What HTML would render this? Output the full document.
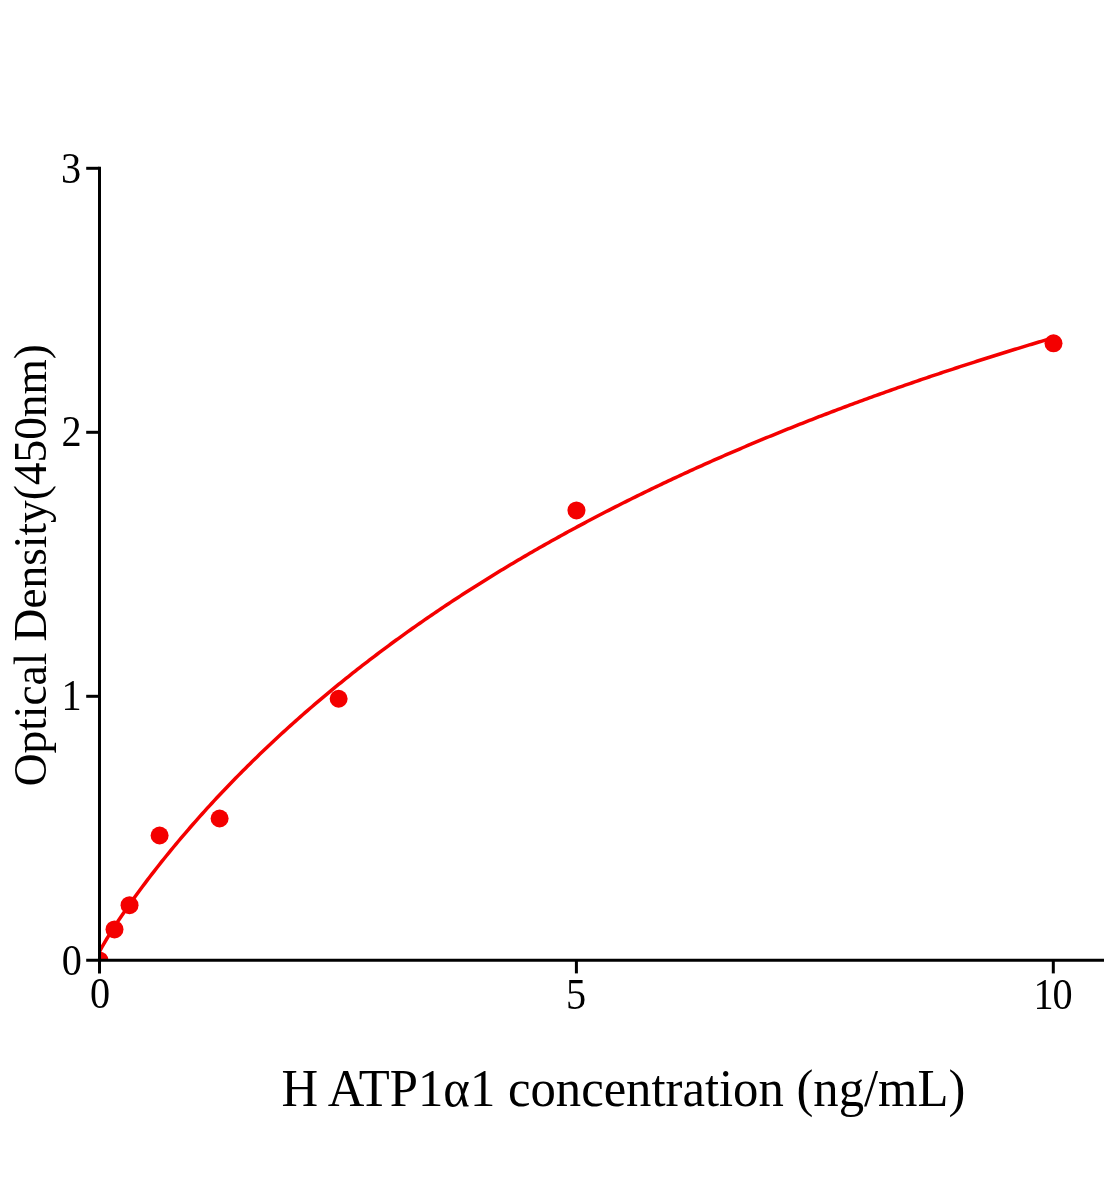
<!DOCTYPE html>
<html><head><meta charset="utf-8"><title>H ATP1α1 standard curve</title>
<style>
html,body{margin:0;padding:0;background:#fff;}
svg{display:block;}
text{font-family:"Liberation Serif","DejaVu Serif",serif;fill:#000;}
</style></head><body>
<svg width="1104" height="1200" viewBox="0 0 1104 1200">
<rect width="1104" height="1200" fill="#fff"/>
<defs><clipPath id="plot"><rect x="99.5" y="0" width="1100" height="960.3"/></clipPath></defs>
<g clip-path="url(#plot)">
<polyline points="99.50,951.76 101.89,947.18 104.28,943.02 106.67,939.02 109.06,935.14 111.45,931.34 113.84,927.61 116.23,923.94 118.62,920.33 121.01,916.78 123.40,913.26 125.80,909.79 128.19,906.36 130.58,902.97 132.97,899.62 135.36,896.30 137.75,893.01 140.14,889.75 142.53,886.53 144.92,883.33 147.31,880.16 149.70,877.02 152.09,873.91 154.48,870.82 156.87,867.76 159.26,864.72 161.65,861.71 164.04,858.72 166.43,855.76 168.82,852.81 171.21,849.89 173.60,846.99 176.00,844.11 178.39,841.25 180.78,838.41 183.17,835.60 185.56,832.80 187.95,830.02 190.34,827.26 192.73,824.52 195.12,821.79 197.51,819.09 199.90,816.40 202.29,813.73 204.68,811.08 207.07,808.44 209.46,805.82 211.85,803.22 214.24,800.63 216.63,798.06 219.02,795.51 221.41,792.97 223.80,790.45 226.20,787.94 228.59,785.45 230.98,782.97 233.37,780.51 235.76,778.06 238.15,775.62 240.54,773.20 242.93,770.80 245.32,768.40 247.71,766.02 250.10,763.66 252.49,761.31 254.88,758.97 257.27,756.64 259.66,754.33 262.05,752.03 264.44,749.74 266.83,747.47 269.22,745.20 271.61,742.95 274.00,740.72 276.40,738.49 278.79,736.28 281.18,734.07 283.57,731.88 285.96,729.70 288.35,727.54 290.74,725.38 293.13,723.23 295.52,721.10 297.91,718.98 300.30,716.86 302.69,714.76 305.08,712.67 307.47,710.59 309.86,708.52 312.25,706.46 314.64,704.41 317.03,702.37 319.42,700.35 321.81,698.33 324.20,696.32 326.60,694.32 328.99,692.33 331.38,690.35 333.77,688.38 336.16,686.42 338.55,684.47 340.94,682.53 343.33,680.60 345.72,678.67 348.11,676.76 350.50,674.85 352.89,672.96 355.28,671.07 357.67,669.19 360.06,667.32 362.45,665.46 364.84,663.61 367.23,661.77 369.62,659.93 372.01,658.10 374.40,656.29 376.80,654.48 379.19,652.67 381.58,650.88 383.97,649.09 386.36,647.32 388.75,645.55 391.14,643.78 393.53,642.03 395.92,640.28 398.31,638.55 400.70,636.82 403.09,635.09 405.48,633.38 407.87,631.67 410.26,629.97 412.65,628.27 415.04,626.59 417.43,624.91 419.82,623.24 422.21,621.57 424.60,619.92 427.00,618.27 429.39,616.62 431.78,614.99 434.17,613.36 436.56,611.73 438.95,610.12 441.34,608.51 443.73,606.91 446.12,605.31 448.51,603.72 450.90,602.14 453.29,600.57 455.68,599.00 458.07,597.43 460.46,595.88 462.85,594.33 465.24,592.78 467.63,591.25 470.02,589.72 472.41,588.19 474.80,586.67 477.20,585.16 479.59,583.65 481.98,582.15 484.37,580.66 486.76,579.17 489.15,577.69 491.54,576.21 493.93,574.74 496.32,573.27 498.71,571.81 501.10,570.36 503.49,568.91 505.88,567.47 508.27,566.03 510.66,564.60 513.05,563.18 515.44,561.76 517.83,560.34 520.22,558.93 522.61,557.53 525.00,556.13 527.40,554.74 529.79,553.35 532.18,551.97 534.57,550.59 536.96,549.22 539.35,547.85 541.74,546.49 544.13,545.13 546.52,543.78 548.91,542.44 551.30,541.09 553.69,539.76 556.08,538.43 558.47,537.10 560.86,535.78 563.25,534.46 565.64,533.15 568.03,531.84 570.42,530.54 572.81,529.24 575.20,527.95 577.60,526.66 579.99,525.38 582.38,524.10 584.77,522.83 587.16,521.56 589.55,520.29 591.94,519.03 594.33,517.77 596.72,516.52 599.11,515.28 601.50,514.03 603.89,512.80 606.28,511.56 608.67,510.33 611.06,509.11 613.45,507.89 615.84,506.67 618.23,505.46 620.62,504.25 623.01,503.05 625.40,501.85 627.80,500.65 630.19,499.46 632.58,498.27 634.97,497.09 637.36,495.91 639.75,494.74 642.14,493.56 644.53,492.40 646.92,491.23 649.31,490.08 651.70,488.92 654.09,487.77 656.48,486.62 658.87,485.48 661.26,484.34 663.65,483.20 666.04,482.07 668.43,480.94 670.82,479.82 673.21,478.70 675.60,477.58 678.00,476.47 680.39,475.36 682.78,474.26 685.17,473.15 687.56,472.05 689.95,470.96 692.34,469.87 694.73,468.78 697.12,467.70 699.51,466.62 701.90,465.54 704.29,464.47 706.68,463.40 709.07,462.33 711.46,461.27 713.85,460.21 716.24,459.15 718.63,458.10 721.02,457.05 723.41,456.00 725.80,454.96 728.20,453.92 730.59,452.89 732.98,451.85 735.37,450.82 737.76,449.80 740.15,448.78 742.54,447.76 744.93,446.74 747.32,445.73 749.71,444.72 752.10,443.71 754.49,442.71 756.88,441.71 759.27,440.71 761.66,439.71 764.05,438.72 766.44,437.73 768.83,436.75 771.22,435.77 773.61,434.79 776.00,433.81 778.40,432.84 780.79,431.87 783.18,430.90 785.57,429.94 787.96,428.98 790.35,428.02 792.74,427.06 795.13,426.11 797.52,425.16 799.91,424.21 802.30,423.27 804.69,422.33 807.08,421.39 809.47,420.46 811.86,419.52 814.25,418.59 816.64,417.67 819.03,416.74 821.42,415.82 823.81,414.90 826.20,413.99 828.60,413.08 830.99,412.16 833.38,411.26 835.77,410.35 838.16,409.45 840.55,408.55 842.94,407.65 845.33,406.76 847.72,405.87 850.11,404.98 852.50,404.09 854.89,403.21 857.28,402.32 859.67,401.45 862.06,400.57 864.45,399.70 866.84,398.82 869.23,397.96 871.62,397.09 874.01,396.22 876.40,395.36 878.80,394.50 881.19,393.65 883.58,392.79 885.97,391.94 888.36,391.09 890.75,390.25 893.14,389.40 895.53,388.56 897.92,387.72 900.31,386.88 902.70,386.05 905.09,385.22 907.48,384.39 909.87,383.56 912.26,382.73 914.65,381.91 917.04,381.09 919.43,380.27 921.82,379.45 924.21,378.64 926.60,377.83 929.00,377.02 931.39,376.21 933.78,375.41 936.17,374.60 938.56,373.80 940.95,373.00 943.34,372.21 945.73,371.41 948.12,370.62 950.51,369.83 952.90,369.04 955.29,368.26 957.68,367.48 960.07,366.69 962.46,365.91 964.85,365.14 967.24,364.36 969.63,363.59 972.02,362.82 974.41,362.05 976.80,361.28 979.20,360.52 981.59,359.76 983.98,359.00 986.37,358.24 988.76,357.48 991.15,356.73 993.54,355.98 995.93,355.22 998.32,354.48 1000.71,353.73 1003.10,352.99 1005.49,352.24 1007.88,351.50 1010.27,350.76 1012.66,350.03 1015.05,349.29 1017.44,348.56 1019.83,347.83 1022.22,347.10 1024.61,346.37 1027.00,345.65 1029.40,344.92 1031.79,344.20 1034.18,343.48 1036.57,342.77 1038.96,342.05 1041.35,341.34 1043.74,340.62 1046.13,339.91 1048.52,339.21 1050.91,338.50 1053.30,337.79" fill="none" stroke="#f40000" stroke-width="3.5" stroke-linejoin="round"/>
<g fill="#f40000">
<circle cx="99.5" cy="960.4" r="9"/>
<circle cx="114.5" cy="929.4" r="9"/>
<circle cx="129.55" cy="905.15" r="9"/>
<circle cx="159.6" cy="835.5" r="9"/>
<circle cx="219.6" cy="818.5" r="9"/>
<circle cx="338.65" cy="698.75" r="9"/>
<circle cx="576.45" cy="510.4" r="9"/>
<circle cx="1053.5" cy="343.3" r="9"/>
</g>
</g>
<g stroke="#000" stroke-width="3.0" fill="none">
<line x1="99.5" y1="166.8" x2="99.5" y2="973.4"/>
<line x1="86.2" y1="960.3" x2="1104" y2="960.3"/>
<line x1="86.2" y1="168.3" x2="99.5" y2="168.3"/>
<line x1="86.2" y1="432.3" x2="99.5" y2="432.3"/>
<line x1="86.2" y1="696.3" x2="99.5" y2="696.3"/>
<line x1="576.4" y1="960.3" x2="576.4" y2="973.4"/>
<line x1="1053.3" y1="960.3" x2="1053.3" y2="973.4"/>
</g>
<g font-size="43.3" text-anchor="end">
<text transform="translate(81.05,182.85) scale(0.93,1)">3</text>
<text transform="translate(81.75,446.15) scale(0.93,1)">2</text>
<text transform="translate(81.55,709.9) scale(0.93,1)">1</text>
<text transform="translate(82.0,974.6) scale(0.93,1)">0</text>
</g>
<g font-size="43.3" text-anchor="middle">
<text transform="translate(100.1,1007.7) scale(0.93,1)">0</text>
<text transform="translate(576.05,1009.0) scale(0.93,1)">5</text>
<text transform="translate(1053.1,1009.2) scale(0.93,1)">1<tspan dx="-1.1">0</tspan></text>
</g>
<text x="623.4" y="1106.3" font-size="53.3" text-anchor="middle" textLength="684" lengthAdjust="spacingAndGlyphs">H ATP1α1 concentration (ng/mL)</text>
<text transform="translate(45.5,565.15) rotate(-90)" font-size="45.37" text-anchor="middle">Optical Density(450nm)</text>
</svg>
</body></html>
